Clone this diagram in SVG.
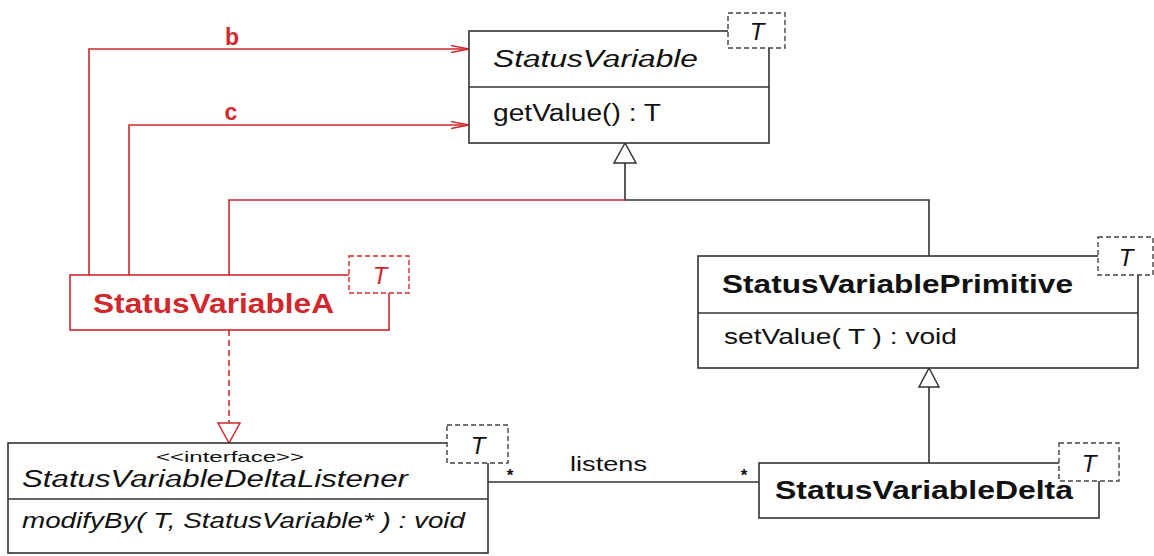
<svg xmlns="http://www.w3.org/2000/svg" width="1154" height="556" viewBox="0 0 1154 556">
<defs>
<style>
text{font-family:"Liberation Sans",Arial,sans-serif;}
.box{fill:#fff;stroke:#333;stroke-width:1.6;}
.rbox{fill:#fff;stroke:#d0282c;stroke-width:1.6;}
.div{stroke:#333;stroke-width:1.6;}
.tbox{fill:#fff;stroke:#444;stroke-width:1.4;stroke-dasharray:5 3;}
.rtbox{fill:#fff;stroke:#d0282c;stroke-width:1.4;stroke-dasharray:5 3;}
.ln{fill:none;stroke:#333;stroke-width:1.6;}
.rln{fill:none;stroke:#d0282c;stroke-width:1.6;}
.rdash{fill:none;stroke:#d0282c;stroke-width:1.6;stroke-dasharray:6 4;}
.tri{fill:#fff;stroke:#333;stroke-width:1.5;}
.rtri{fill:#fff;stroke:#d0282c;stroke-width:1.5;}
.name{font-size:23px;fill:#111;}
.bold{font-size:26px;font-weight:bold;fill:#111;}
.it{font-style:italic;}
.tl{font-size:24px;font-style:italic;fill:#111;text-anchor:middle;}
.red{fill:#d0282c;}
.lbl{font-size:23px;font-weight:bold;fill:#d0282c;text-anchor:middle;}
.star{font-size:17px;font-weight:bold;fill:#111;text-anchor:middle;}
</style>
<marker id="open" markerWidth="20" markerHeight="10" refX="18" refY="4" orient="auto" markerUnits="userSpaceOnUse">
<path d="M0,0.5 L18,4 L0,7.5" fill="none" stroke="#d0282c" stroke-width="1.4"/>
</marker>
</defs>
<rect width="1154" height="556" fill="#fff"/>

<g id="connectors">
<path class="rln" d="M89,275 V49 H469" marker-end="url(#open)"/>
<path class="rln" d="M129,275 V125 H469" marker-end="url(#open)"/>
<text class="lbl" x="232" y="45">b</text>
<text class="lbl" x="231" y="120">c</text>
<path class="ln" d="M929,256 V200 H625 V163"/>
<polygon class="tri" points="625,143 614,163 636,163"/>
<path class="rln" d="M229,275 V200 H625"/>
<path class="rdash" d="M229,330 V423"/>
<polygon class="rtri" points="218,423 240,423 229,443"/>
<path class="ln" d="M929,463 V387"/>
<polygon class="tri" points="929,368 919,387 939,387"/>
<path class="ln" d="M488,482 H759"/>
<text class="star" x="510" y="481">*</text>
<text class="star" x="744" y="481">*</text>
<text x="570" y="471" style="font-size:21px;fill:#111" textLength="77" lengthAdjust="spacingAndGlyphs">listens</text>
</g>

<g id="StatusVariable">
<rect class="box" x="469" y="31" width="300" height="112"/>
<line class="div" x1="469" y1="87" x2="769" y2="87"/>
<rect class="tbox" x="728" y="13" width="57" height="35"/>
<text class="tl" x="757" y="40">T</text>
<text class="name it" x="493" y="67" textLength="205" lengthAdjust="spacingAndGlyphs">StatusVariable</text>
<text class="name" x="493" y="121" textLength="168" lengthAdjust="spacingAndGlyphs">getValue() : T</text>
</g>

<g id="StatusVariableA">
<rect class="rbox" x="70" y="275" width="319" height="55"/>
<rect class="rtbox" x="349" y="256" width="60" height="37"/>
<text class="tl red" x="380" y="284">T</text>
<text class="bold red" x="93" y="313" style="font-size:27px" textLength="241" lengthAdjust="spacingAndGlyphs">StatusVariableA</text>
</g>

<g id="StatusVariablePrimitive">
<rect class="box" x="698" y="256" width="440" height="112"/>
<line class="div" x1="698" y1="313" x2="1138" y2="313"/>
<rect class="tbox" x="1098" y="237" width="55" height="38"/>
<text class="tl" x="1126" y="266">T</text>
<text class="bold" x="722" y="293" textLength="351" lengthAdjust="spacingAndGlyphs">StatusVariablePrimitive</text>
<text class="name" x="724" y="344" style="font-size:22px" textLength="233" lengthAdjust="spacingAndGlyphs">setValue( T ) : void</text>
</g>

<g id="StatusVariableDeltaListener">
<rect class="box" x="8" y="443" width="480" height="110"/>
<line class="div" x1="8" y1="499" x2="488" y2="499"/>
<rect class="tbox" x="447" y="425" width="61" height="38"/>
<text class="tl" x="478" y="454">T</text>
<text x="156" y="462" style="font-size:15px;fill:#111" textLength="148" lengthAdjust="spacingAndGlyphs">&lt;&lt;interface&gt;&gt;</text>
<text class="name it" x="22" y="487" textLength="386" lengthAdjust="spacingAndGlyphs">StatusVariableDeltaListener</text>
<text class="name it" x="22" y="528" style="font-size:22px" textLength="443" lengthAdjust="spacingAndGlyphs">modifyBy( T, StatusVariable* ) : void</text>
</g>

<g id="StatusVariableDelta">
<rect class="box" x="759" y="463" width="340" height="55"/>
<rect class="tbox" x="1059" y="443" width="60" height="38"/>
<text class="tl" x="1089" y="472">T</text>
<text class="bold" x="775" y="499" textLength="298" lengthAdjust="spacingAndGlyphs">StatusVariableDelta</text>
</g>
</svg>
